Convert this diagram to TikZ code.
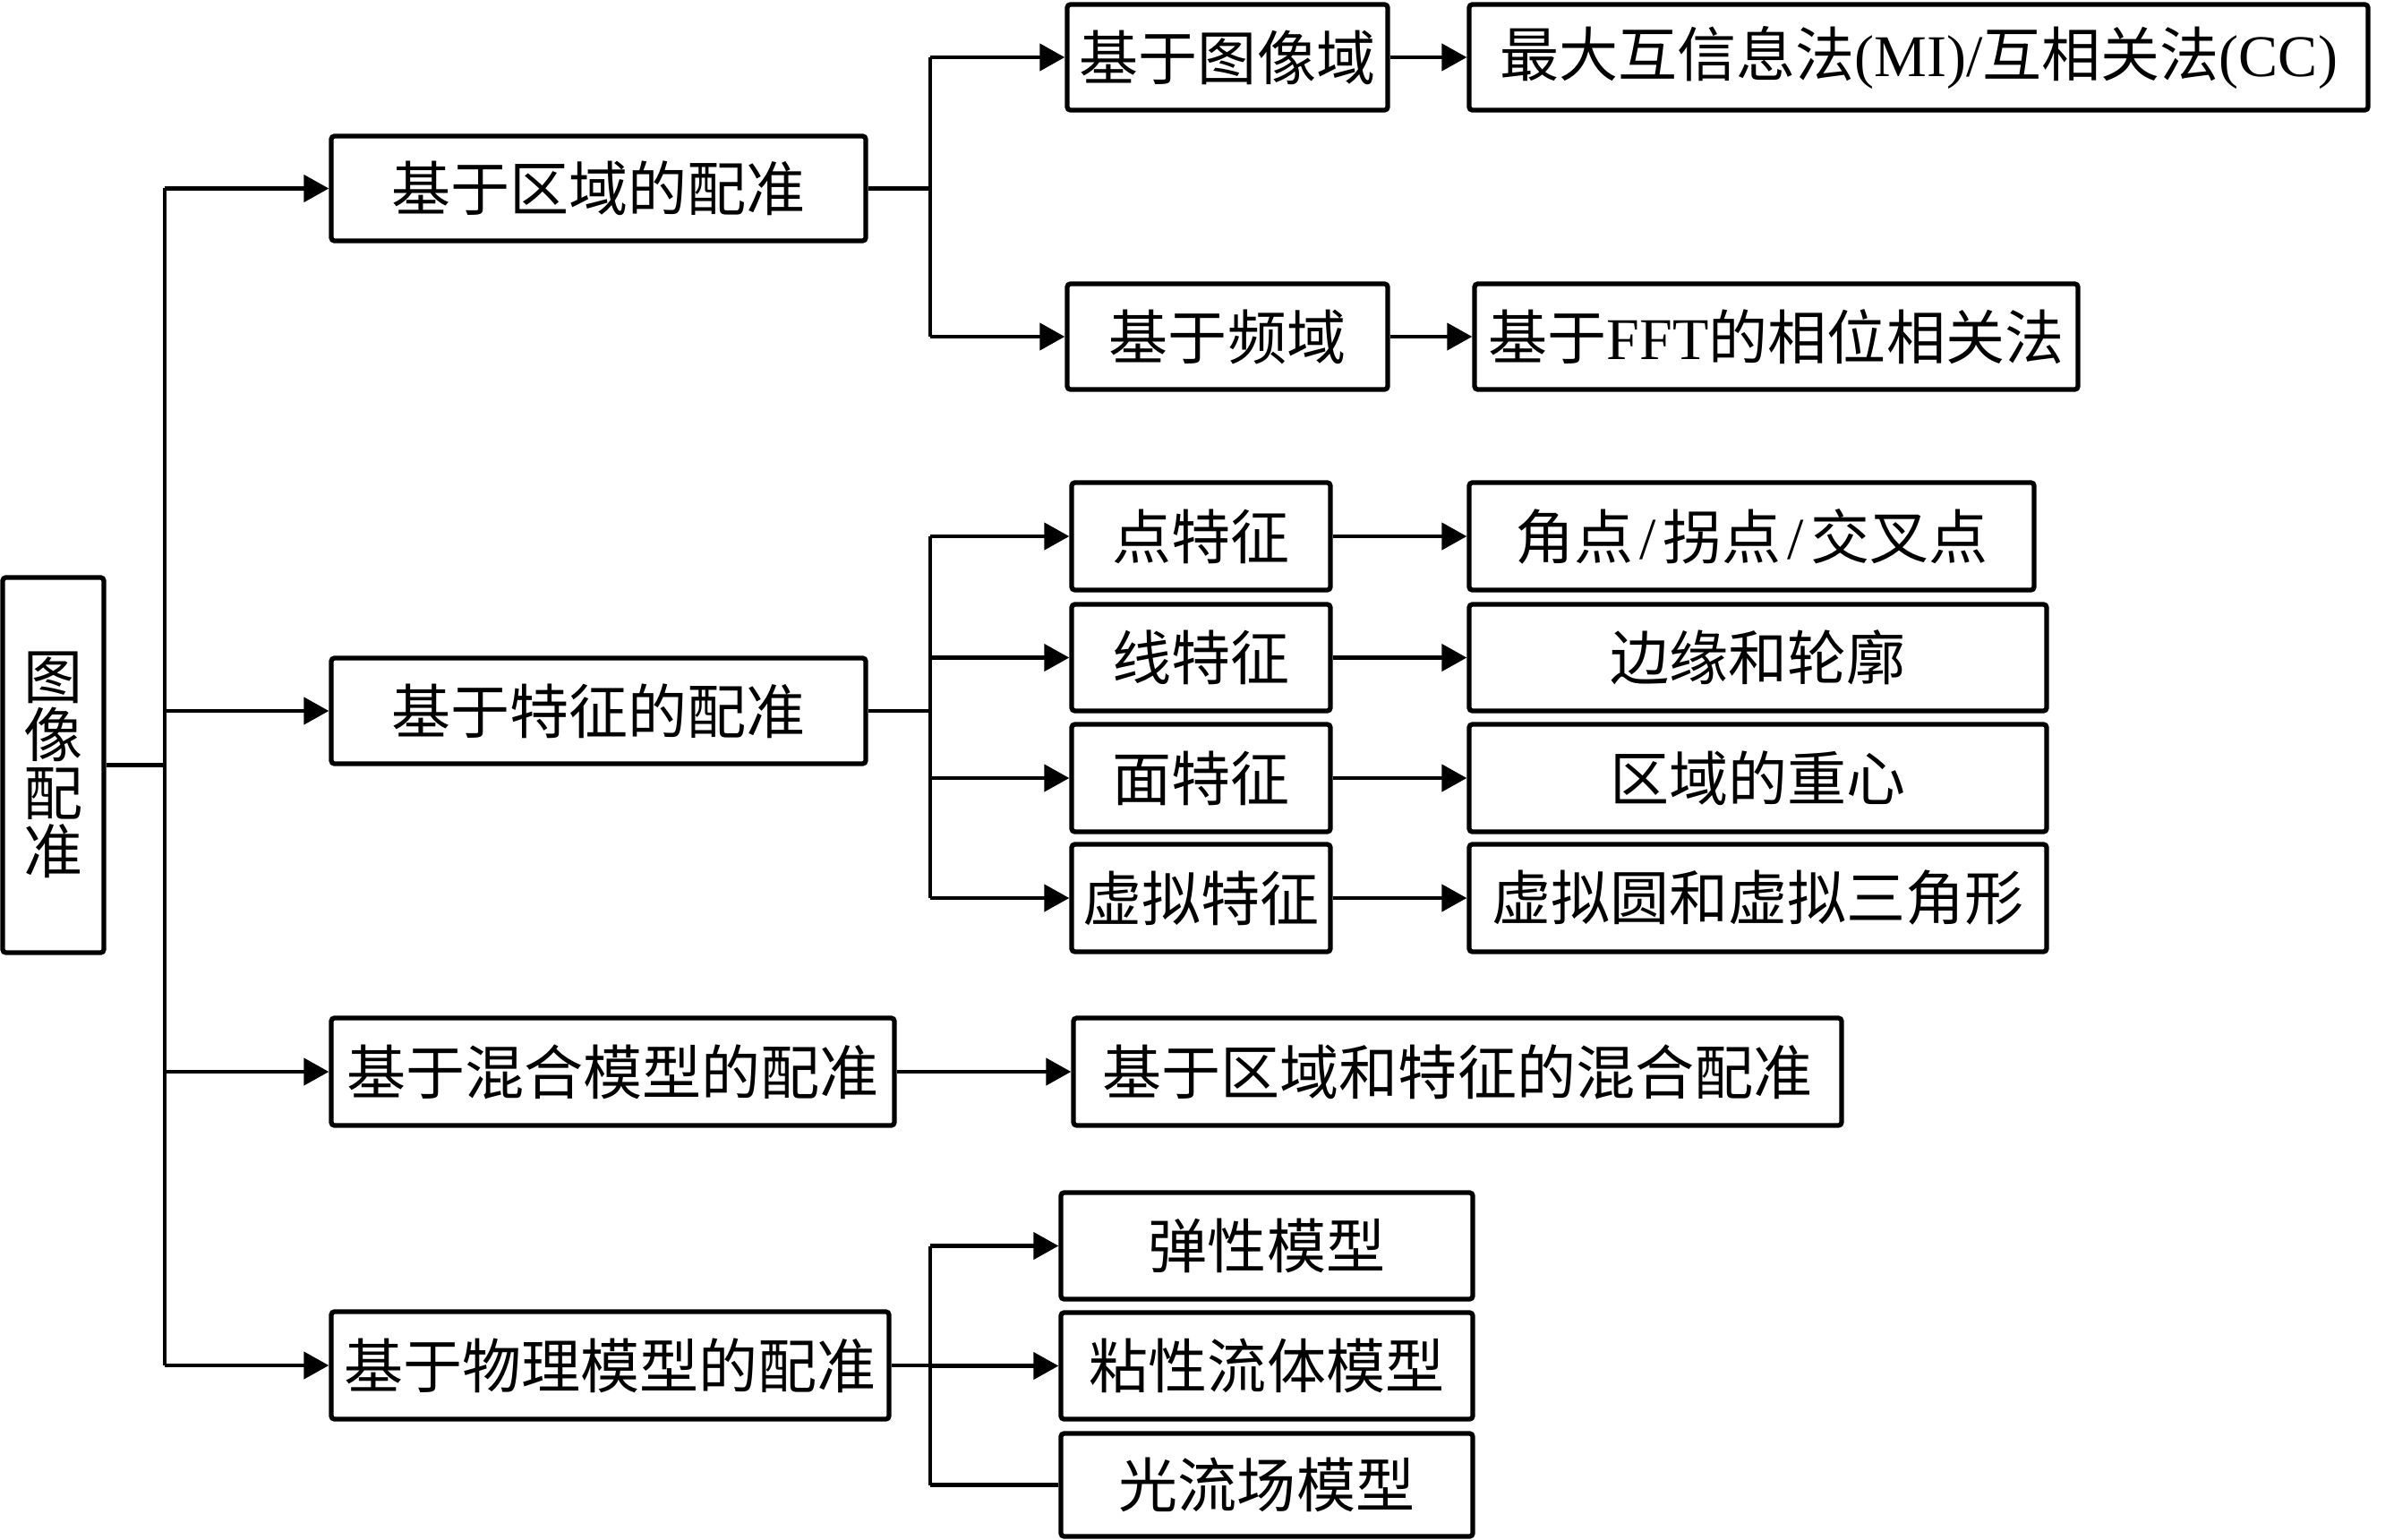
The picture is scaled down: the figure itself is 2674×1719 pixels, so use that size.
\documentclass[tikz,border=0pt]{standalone}
\usepackage{fontspec}
\setmainfont{Liberation Serif}
\newfontfamily\cjk{Noto Sans CJK SC}
\newfontfamily\lat{Liberation Serif}
\usetikzlibrary{arrows.meta}
\newcommand\slh{\makebox[0.5em]{\lat /}}
\tikzset{
  bx/.style={draw, line width=1.5pt, rounded corners=1pt, inner sep=0pt,
    font=\cjk\fontsize{18.8pt}{22pt}\selectfont},
  ln/.style={line width=1.4pt},
  arr/.style={ln, -{Triangle[length=8pt,width=8.5pt]}},
}
\begin{document}
\begin{tikzpicture}[x=0.1mm,y=-0.1mm]
\useasboundingbox (0,0) rectangle (2674,1719);
\fill[white] (0,0) rectangle (2674,1719);
% root
\node[bx, minimum width=11.3mm, minimum height=41.9mm, align=center,
  font=\cjk\fontsize{18.8pt}{18.5pt}\selectfont] (root) at (59.5,854.5) {图\\像\\配\\准};
% level 1
\node[bx, minimum width=59.7mm, minimum height=11.7mm] (r1) at (668.5,210.5) {基于区域的配准};
\node[bx, minimum width=59.7mm, minimum height=11.8mm] (r2) at (668.5,794) {基于特征的配准};
\node[bx, minimum width=62.9mm, minimum height=12mm] (r3) at (684.5,1197) {基于混合模型的配准};
\node[bx, minimum width=62.3mm, minimum height=12mm] (r4) at (681.5,1525) {基于物理模型的配准};
% region branch
\node[bx, minimum width=35.8mm, minimum height=11.8mm] (a1) at (1371,64) {基于图像域};
\node[bx, minimum width=100.4mm, minimum height=11.8mm] (a2) at (2143,64) {最大互信息法{\lat (MI)/}互相关法{\lat (CC)}};
\node[bx, minimum width=35.8mm, minimum height=11.8mm] (b1) at (1371,376) {基于频域};
\node[bx, minimum width=67.4mm, minimum height=11.8mm] (b2) at (1984,376) {基于{\lat FFT}的相位相关法};
% feature branch
\node[bx, minimum width=28.9mm, minimum height=12mm] (f1) at (1341.5,599) {点特征};
\node[bx, minimum width=28.9mm, minimum height=11.9mm] (f2) at (1341.5,734.5) {线特征};
\node[bx, minimum width=28.9mm, minimum height=12mm] (f3) at (1341.5,869) {面特征};
\node[bx, minimum width=28.9mm, minimum height=12mm] (f4) at (1341.5,1003) {虚拟特征};
\node[bx, minimum width=63.1mm, minimum height=12mm] (g1) at (1956.5,599) {角点\slh 拐点\slh 交叉点};
\node[bx, minimum width=64.5mm, minimum height=11.9mm] (g2) at (1963.5,734.5) {边缘和轮廓};
\node[bx, minimum width=64.5mm, minimum height=12mm] (g3) at (1963.5,869) {区域的重心};
\node[bx, minimum width=64.5mm, minimum height=12mm] (g4) at (1963.5,1003) {虚拟圆和虚拟三角形};
% mixed
\node[bx, minimum width=85.8mm, minimum height=12mm] (m2) at (1628,1197) {基于区域和特征的混合配准};
% physical
\node[bx, minimum width=46mm, minimum height=11.9mm] (p1) at (1415,1391.5) {弹性模型};
\node[bx, minimum width=46mm, minimum height=11.9mm] (p2) at (1415,1525.5) {粘性流体模型};
\node[bx, minimum width=46mm, minimum height=11.5mm] (p3) at (1415,1658.5) {光流场模型};
% trunk coordinates
\coordinate (tx) at (184,0);
\coordinate (bx) at (1039,0);
% root connections
\draw[ln] (root.east) -- (root.east -| tx);
\draw[ln] (r1.west -| tx) -- (r4.west -| tx);
\foreach \n in {r1,r2,r3,r4} \draw[arr] (\n.west -| tx) -- (\n.west);
% region
\draw[ln] (r1.east) -- (r1.east -| bx);
\draw[ln] (a1.west -| bx) -- (b1.west -| bx);
\draw[arr] (a1.west -| bx) -- (a1.west);
\draw[arr] (b1.west -| bx) -- (b1.west);
\draw[arr] (a1.east) -- (a2.west);
\draw[arr] (b1.east) -- (b2.west);
% feature
\draw[ln] (r2.east) -- (r2.east -| bx);
\draw[ln] (f1.west -| bx) -- (f4.west -| bx);
\foreach \n in {f1,f2,f3,f4} \draw[arr] (\n.west -| bx) -- (\n.west);
\draw[arr] (f1.east) -- (g1.west);
\draw[arr] (f2.east) -- (g2.west);
\draw[arr] (f3.east) -- (g3.west);
\draw[arr] (f4.east) -- (g4.west);
% mixed
\draw[arr] (r3.east) -- (m2.west);
% physical
\draw[ln] (r4.east) -- (r4.east -| bx);
\draw[ln] (p1.west -| bx) -- (p3.west -| bx);
\draw[arr] (p1.west -| bx) -- (p1.west);
\draw[arr] (p2.west -| bx) -- (p2.west);
\draw[ln] (p3.west -| bx) -- (p3.west);
\end{tikzpicture}
\end{document}
